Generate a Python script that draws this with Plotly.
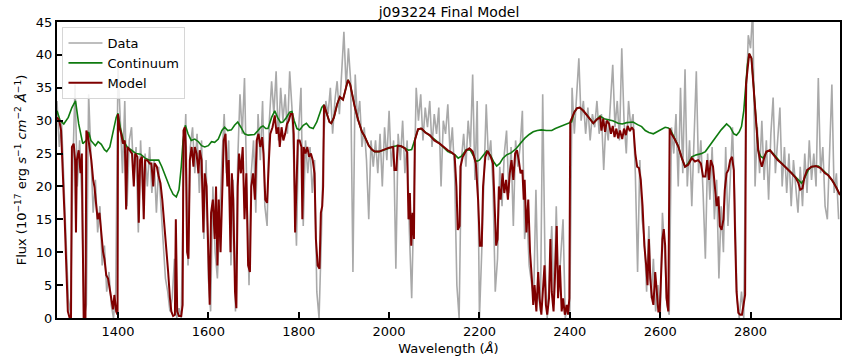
import plotly.graph_objects as go

# ---------------- Data (observed spectrum, 5 Å sampling) ----------------
data_wave = list(range(1265, 3000, 5))
data_flux = [
    33, 26, 30, 21, 12, 3, 0.5, 23, 35.5, 20,
    27, 18, 0, 2, 34, 25, 16, 21, 13, 17,
    8, 11, 4, 7, 2, 0, 4, 38.5, 30, 22,
    33, 17, 27, 29, 21, 26, 13, 27, 18, 25,
    20, 26, 19, 24, 16, 23, 17, 12, 6, 4,
    1, 3, 9, 0, 1.5, 0, 22, 31, 8, 26,
    29, 22, 28, 19, 27, 12, 24, 6, 1, 20,
    10, 6, 16, 24, 31, 22, 27, 8, 21, 1,
    24, 34, 28, 36.5, 20, 5, 22, 27, 16, 31,
    24, 33, 17, 14, 30, 36, 31, 37.5, 27, 35,
    30, 34, 28, 37.5, 32, 22, 11, 29, 35, 14,
    27, 22, 26, 19, 24, 4, 0, 12, 27, 33,
    31, 35, 28, 33, 36, 31, 38, 43.5, 35, 41,
    36, 7, 37, 30, 33, 26, 29, 24, 15, 27,
    23, 27, 22, 28, 20, 29, 24, 31.5, 23, 27,
    7.5, 28, 24, 30, 22, 27, 13, 3, 18, 35,
    30, 34, 27, 32, 29, 33, 26, 31, 28, 32,
    20, 30, 28, 32.5, 25, 29, 22, 5, 0, 24,
    28, 23, 30, 26, 37, 21, 33, 0, 10, 22,
    32.5, 24, 27, 20, 4, 9, 23, 17, 25, 28.5,
    19, 26, 14, 27, 23, 26, 31.5, 12, 16, 8,
    5, 3, 19.5, 4, 1, 34, 9, 0, 6, 14,
    2, 17, 4, 10, 15, 0, 2, 1, 35, 28,
    34, 39.5, 30, 33, 28, 32, 27, 31, 29, 33,
    28, 31, 22.5, 30, 27, 32, 38.5, 29, 33, 27,
    41, 30, 25, 33, 29, 31, 22, 7, 24, 15,
    12, 4, 14, 3, 9, 1, 5, 0, 16, 10,
    2, 0.5, 29, 25, 31, 20, 35, 22, 37.8, 20,
    27, 17, 26, 37.5, 22, 27, 19, 9, 25, 18,
    26, 15, 21, 6, 17, 10, 26, 14, 21, 29,
    18, 3, 0, 4, 0, 32, 43, 41, 47, 20,
    29, 22, 30, 21, 27, 18, 28, 33.5, 22, 27,
    32, 20, 26, 19, 25, 17, 24, 20, 16, 23,
    17, 25, 19, 27, 21, 25, 20, 36.5, 22, 26,
    17, 15, 24, 35.5, 19, 22, 15,
]

# ---------------- Continuum ----------------
cont_wave = [
    1265, 1272, 1280, 1290, 1298, 1306, 1313, 1322, 1330, 1335,
    1340, 1350, 1356, 1363, 1370, 1375, 1382, 1390, 1396, 1400,
    1405, 1412, 1420, 1430, 1440, 1450, 1460, 1470, 1480, 1490,
    1497, 1505, 1515, 1522, 1529, 1535, 1540, 1544, 1549, 1555,
    1562, 1570, 1578, 1585, 1592, 1600, 1607, 1614, 1622, 1630,
    1636, 1643, 1651, 1658, 1665, 1672, 1680, 1688, 1695, 1702,
    1710, 1716, 1721, 1727, 1732, 1740, 1747, 1753, 1760, 1765,
    1772, 1780, 1785, 1790, 1796, 1802, 1810, 1817, 1824, 1832,
    1840, 1846, 1851, 1856, 1862, 1868, 1872, 1878, 1885, 1891,
    1898, 1904, 1909, 1914, 1919, 1924, 1932, 1940, 1946, 1955,
    1962, 1968, 1978, 1990, 2000, 2012, 2020, 2027, 2035, 2043,
    2050, 2057, 2064, 2070, 2080, 2090, 2100, 2112, 2122, 2130,
    2138, 2146, 2153, 2160, 2171, 2180, 2187, 2193, 2200, 2208,
    2216, 2224, 2231, 2238, 2245, 2252, 2260, 2270, 2282, 2290,
    2300, 2310, 2319, 2328, 2337, 2348, 2360, 2368, 2378, 2390,
    2404, 2410, 2416, 2422, 2430, 2441, 2452, 2460, 2467, 2476,
    2485, 2495, 2507, 2516, 2526, 2533, 2540, 2550, 2559, 2567,
    2575, 2585, 2595, 2603, 2611, 2618, 2622, 2630, 2640, 2648,
    2655, 2662, 2670, 2680, 2692, 2700, 2710, 2722, 2735, 2747,
    2755, 2763, 2769, 2775, 2780, 2785, 2789, 2793, 2797, 2802,
    2806, 2810, 2814, 2817, 2822, 2828, 2835, 2843, 2850, 2860,
    2869, 2880, 2891, 2900, 2907, 2913, 2917, 2921, 2928, 2935,
    2950, 2960, 2972, 2985, 2998,
]
cont_flux = [
    31.5, 30, 29.5, 30.5, 32, 33, 29.5, 26.5, 27, 28.3,
    27, 26.2, 26.8, 26.4, 25.6, 25.3, 26, 28.5, 30.5, 31.1,
    29, 27, 26, 25.5, 25, 24.9, 24.3, 24, 24, 24,
    23, 21.5, 19.8, 18.8, 18.4, 19.5, 23, 27, 29.3, 28,
    27, 27.2, 26.8, 26.2, 26, 26.2, 26.8, 26.7, 27.2, 28.5,
    29, 28.5, 28.6, 29.3, 29.8, 29, 28, 27.8, 27.8, 27.9,
    28.5, 29, 29.2, 28.8, 28.8, 30.5, 31.5, 30.5, 29.7, 29.8,
    30.4, 31.3, 31.4, 30, 28.8, 28.6, 29.3, 29.6, 29, 28.8,
    29.8, 31.1, 32, 32.4, 31, 29.8, 29.6, 30.5, 32.5, 33.6,
    33.2, 35, 36.2, 35.5, 33.5, 32.1, 30, 28.3, 27.6, 26.2,
    25.6, 25.3, 25.3, 25.6, 25.9, 26.1, 26.2, 26.1, 25.8, 25.5,
    25.6, 27, 28.6, 28.8, 28.3, 27.8, 27.2, 26.5, 25.8, 25.3,
    25.1, 24.8, 24.3, 24.6, 25.6, 25.5, 24.6, 23.8, 24, 24.8,
    25.4, 24.8, 23.8, 23.1, 23.5, 24.3, 24.8, 25.1, 25.8, 26.5,
    27.3, 27.9, 28.3, 28.5, 28.6, 28.5, 28.5, 28.8, 29.1, 29.4,
    29.8, 31.3, 31.9, 32, 31.5, 30.6, 29.6, 30.2, 30.7, 30.3,
    30.2, 30, 29.6, 29.5, 29.7, 29.8, 29.8, 29.4, 29.1, 28.5,
    28.2, 28, 28.4, 28.8, 29, 28.9, 28.7, 27.6, 26.1, 24.3,
    23, 23.5, 24.5, 24.8, 25, 25.3, 26.3, 27.3, 28.6, 29.5,
    29, 28, 27.8, 28.3, 29.1, 31.5, 35.1, 38.5, 40.2, 39.5,
    36, 32.1, 28, 25.5, 24.6, 24.3, 25.2, 25.5, 25, 24.2,
    23.5, 22.8, 22, 21.3, 20.8, 20.5, 20.9, 21.5, 22.5, 23,
    23.1, 22.5, 21.7, 20.5, 18.7,
]

# ---------------- Model ----------------
model_wave = [
    1265, 1270, 1274, 1278, 1282, 1286, 1289, 1293, 1296, 1298,
    1302, 1305, 1307, 1309, 1313, 1317, 1320, 1322, 1324, 1328,
    1330, 1333, 1337, 1341, 1345, 1348, 1352, 1355, 1359, 1363,
    1367, 1370, 1374, 1378, 1382, 1385, 1389, 1392, 1396, 1399,
    1400, 1403, 1407, 1411, 1415, 1418, 1421, 1426, 1431, 1435,
    1438, 1443, 1446, 1449, 1453, 1457, 1460, 1465, 1470, 1474,
    1478, 1481, 1486, 1490, 1494, 1498, 1503, 1507, 1511, 1515,
    1518, 1522, 1526, 1528, 1531, 1535, 1540, 1543, 1545, 1548,
    1550, 1553, 1556, 1559, 1563, 1567, 1570, 1574, 1578, 1581,
    1585, 1589, 1592, 1596, 1600, 1603, 1606, 1610, 1614, 1617,
    1620, 1623, 1627, 1631, 1634, 1638, 1642, 1645, 1649, 1652,
    1655, 1659, 1662, 1665, 1668, 1672, 1676, 1680, 1684, 1688,
    1692, 1695, 1699, 1703, 1707, 1711, 1715, 1719, 1722, 1726,
    1730, 1734, 1737, 1742, 1747, 1751, 1755, 1758, 1762, 1766,
    1770, 1774, 1778, 1782, 1786, 1789, 1792, 1795, 1798, 1802,
    1806, 1808, 1811, 1815, 1819, 1823, 1827, 1831, 1835, 1838,
    1842, 1846, 1849, 1852, 1854, 1856, 1862, 1868, 1872, 1878,
    1885, 1891, 1898, 1904, 1909, 1914, 1919, 1924, 1932, 1940,
    1946, 1955, 1962, 1968, 1978, 1990, 2000, 2009, 2012, 2016,
    2019, 2027, 2035, 2040, 2043, 2046, 2049, 2052, 2055, 2057,
    2064, 2072, 2080, 2090, 2100, 2112, 2120, 2130, 2138, 2145,
    2149, 2152, 2156, 2158, 2163, 2171, 2178, 2185, 2192, 2197,
    2201, 2205, 2208, 2213, 2218, 2225, 2230, 2234, 2237, 2240,
    2243, 2247, 2251, 2255, 2259, 2263, 2267, 2271, 2275, 2279,
    2283, 2287, 2291, 2295, 2298, 2300, 2304, 2308, 2312, 2316,
    2319, 2322, 2326, 2330, 2333, 2337, 2340, 2344, 2347, 2350,
    2354, 2357, 2360, 2364, 2367, 2371, 2374, 2378, 2382, 2385,
    2389, 2393, 2396, 2399, 2401, 2405, 2410, 2416, 2422, 2430,
    2441, 2452, 2460, 2467, 2470, 2474, 2478, 2482, 2487, 2491,
    2495, 2499, 2503, 2507, 2511, 2516, 2520, 2524, 2528, 2533,
    2537, 2541, 2545, 2549, 2553, 2557, 2561, 2565, 2569, 2572,
    2575, 2578, 2582, 2585, 2589, 2592, 2596, 2599, 2602, 2605,
    2608, 2611, 2614, 2618, 2621, 2625, 2632, 2640, 2648, 2655,
    2662, 2670, 2677, 2684, 2690, 2695, 2700, 2704, 2708, 2712,
    2717, 2721, 2725, 2729, 2732, 2736, 2740, 2743, 2747, 2751,
    2755, 2759, 2763, 2766, 2769, 2773, 2777, 2781, 2785, 2788,
    2790, 2794, 2797, 2802, 2806, 2810, 2814, 2817, 2821, 2825,
    2830, 2835, 2843, 2850, 2860, 2869, 2880, 2891, 2900, 2906,
    2910, 2915, 2919, 2925, 2935, 2945, 2955, 2965, 2972, 2980,
    2990, 2998,
]
model_flux = [
    30.5, 30, 28.5, 22.5, 15, 7, 1, 0, 0, 26,
    26.5, 24, 13, 24, 25.5, 22, 25, 12, 0, 0,
    28.5, 27.9, 26, 24, 21, 19.9, 17, 15, 16, 12.5,
    10, 9, 6.5, 6, 4.5, 2.8, 1.3, 3.5, 1, 0.5,
    31, 29, 28, 26.5, 27, 16.5, 26, 25.5, 25, 20,
    25, 24.5, 14.5, 24, 24.5, 15, 24, 24, 23.5, 23.5,
    20, 23.5, 23, 21.5, 20.5, 18, 14, 10, 7, 3,
    1, 0.3, 0.5, 15, 1, 0.3, 0.3, 2, 28.5, 29,
    26, 10, 9, 24, 26, 23, 26, 25, 22, 25.5,
    24, 13, 22, 20, 8, 2, 16, 18, 12, 20,
    8, 18, 10, 22, 27, 28, 20, 24, 10, 22,
    18, 4, 1.5, 20, 25, 22, 26, 15, 22, 8,
    7, 20, 22, 18, 27, 28, 26, 27.5, 25, 18,
    17.5, 24, 28, 29, 30.8, 28, 29, 26, 29, 27,
    28, 29.5, 30, 31, 31, 28, 13, 20, 27, 27,
    26, 15, 26, 25, 26, 24.5, 25, 24, 22, 12,
    8, 7.5, 16, 17, 20, 32.4, 31, 29.8, 29.6, 30.5,
    32.5, 33.6, 33.2, 35, 36.2, 35.5, 33.5, 32.1, 30, 28.3,
    27.6, 26.2, 25.6, 25.3, 25.3, 25.6, 25.9, 26, 22.5, 22.5,
    26.2, 26.1, 25.8, 25.2, 15, 19, 11, 16, 12, 27,
    28.7, 28.8, 28.2, 27.8, 27, 26.5, 26, 25.5, 25.2, 24.8,
    20, 13.4, 14, 23, 24.5, 25.5, 25.8, 25.3, 23.5, 18,
    11, 11, 20, 24.5, 25.4, 24.5, 23.5, 16, 11, 12,
    20, 18, 22, 19, 21, 18, 22, 24, 21, 25,
    25.5, 24, 22, 22.5, 18, 21, 13, 18, 10, 6,
    2, 5, 1, 7, 3, 0.5, 4, 8, 2, 0.5,
    3, 12, 4, 1, 6, 14, 3, 8, 1, 3,
    0.5, 2, 0.5, 3, 29.8, 30.5, 31.3, 31.9, 32, 31.5,
    30.6, 29.6, 30.2, 30.5, 28.5, 30.3, 28.3, 30, 29.5, 28,
    29.2, 27.5, 28.8, 27.3, 28.5, 27.2, 28.8, 27.8, 29.2, 28.4,
    29, 28.6, 25, 23, 22.8, 21, 17, 11, 8, 5,
    12, 6, 3, 2, 7, 4, 1, 1, 6, 12,
    13.5, 11, 3, 1, 28.8, 28, 27.2, 26.1, 24.3, 23,
    23.3, 24.3, 23.8, 24, 23.5, 21.5, 21.5, 24, 21, 24,
    23, 20.5, 17, 18.5, 14, 13.4, 15, 19.5, 22, 22.5,
    24, 24.5, 22.5, 12, 4, 0.8, 0.5, 0.5, 2, 3.5,
    35.5, 39, 40.2, 39.5, 36, 32.1, 28, 25.5, 24, 23,
    24.3, 25.3, 25.5, 24.8, 24, 23.5, 22.8, 22, 21.3, 20.5,
    19.5, 19.7, 21.3, 22.5, 23, 23.1, 22.8, 22, 21.7, 21,
    19.8, 18.7,
]

x_ticks = [1400, 1600, 1800, 2000, 2200, 2400, 2600, 2800]
y_ticks = [0, 5, 10, 15, 20, 25, 30, 35, 40, 45]

assert len(data_wave) == len(data_flux)
assert len(cont_wave) == len(cont_flux)
assert len(model_wave) == len(model_flux)

FONT = "DejaVu Sans"

fig = go.Figure()
fig.add_trace(go.Scatter(x=data_wave, y=data_flux, mode="lines", name="Data",
                         line=dict(color="#a9a9a9", width=1.6)))
fig.add_trace(go.Scatter(x=cont_wave, y=cont_flux, mode="lines", name="Continuum",
                         line=dict(color="#0f7a0f", width=1.6)))
fig.add_trace(go.Scatter(x=model_wave, y=model_flux, mode="lines", name="Model",
                         line=dict(color="#7f0000", width=2)))

axis_common = dict(
    showgrid=False, zeroline=False,
    showline=True, linecolor="black", linewidth=2, mirror=True,
    ticks="inside", ticklen=6, tickwidth=2, tickcolor="black",
    tickfont=dict(family=FONT, size=13, color="black"),
    automargin=False,
)

fig.update_layout(
    width=844, height=358,
    margin=dict(l=57, r=4, t=22, b=40),
    paper_bgcolor="white", plot_bgcolor="white",
    font=dict(family=FONT, size=13, color="black"),
    title=dict(text="j093224 Final Model", x=0.532, xanchor="center",
               y=0.967, yanchor="middle", yref="container",
               font=dict(family=FONT, size=14, color="black")),
    xaxis=dict(range=[1265, 2998], tickvals=x_ticks,
               title=dict(text="Wavelength (<i>Å</i>)", standoff=6,
                          font=dict(family=FONT, size=13)),
               **axis_common),
    yaxis=dict(range=[0, 45], tickvals=y_ticks,
               title=dict(text="Flux (10<sup>−17</sup> erg <i>s</i><sup>−1</sup> <i>cm</i><sup>−2</sup> <i>Å</i><sup>−1</sup>)",
                          standoff=6, font=dict(family=FONT, size=13)),
               **axis_common),
    legend=dict(x=0.007, y=0.983, xanchor="left", yanchor="top",
                bgcolor="rgba(255,255,255,0.85)", bordercolor="#d6d6d6", borderwidth=1,
                font=dict(family=FONT, size=13, color="black"),
                itemwidth=34, tracegroupgap=0),
    showlegend=True,
)

fig.write_html("out.html",
               config={"displayModeBar": False},
               post_script="document.body.style.margin='0';document.body.style.padding='0';")
